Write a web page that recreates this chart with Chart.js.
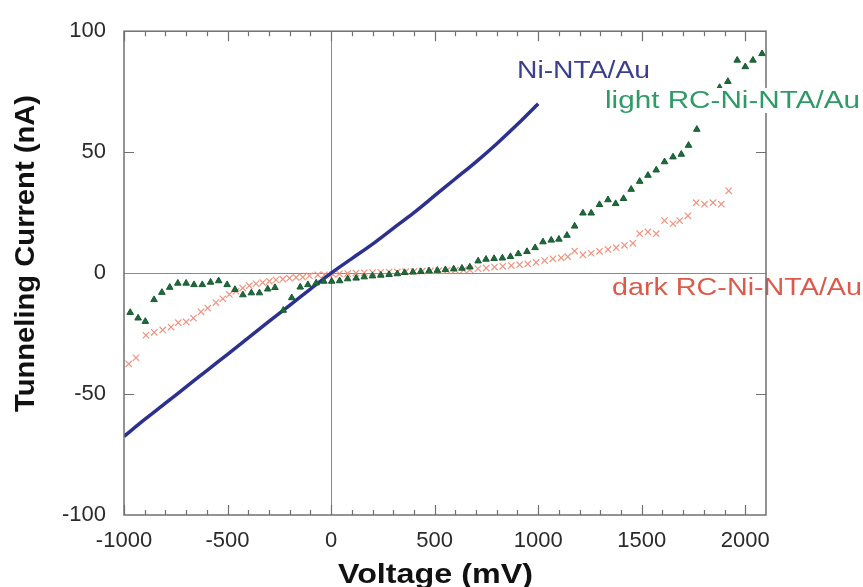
<!DOCTYPE html>
<html>
<head>
<meta charset="utf-8">
<script src="https://cdn.jsdelivr.net/npm/chart.js@4.4.1/dist/chart.umd.min.js"></script>
<style>
  html, body { margin: 0; padding: 0; background: #fff; }
  #wrap { width: 863px; height: 587px; position: relative; }
</style>
</head>
<body>
<div id="wrap"><canvas id="ivChart"></canvas></div>
<script>
// ---- data (voltage in mV, current in nA) ----
const xTicks = [-1000, -500, 0, 500, 1000, 1500, 2000];
const yTicks = [-100, -50, 0, 50, 100];

// Ni-NTA/Au (solid line)
const niV = [-1000, -900, -800, -700, -600, -500, -400, -300, -200, -100, 0, 100, 200, 300, 400, 500, 600, 700, 800, 900, 1000];
const niI = [-67.5, -60.5, -53.8, -47.0, -40.3, -33.6, -26.8, -20.0, -13.3, -6.6, 0, 6.0, 12.0, 18.5, 25.0, 32.0, 39.0, 46.0, 53.5, 61.5, 70.0];

// light RC-Ni-NTA/Au (triangles)
const lightV = [-970, -932, -897, -855, -817, -779, -740, -700, -662, -622, -582, -543, -502, -464, -426, -385, -346, -306, -271, -231,
  -190, -149, -112, -72, -35, 3, 41, 80, 121, 160, 200, 240, 280, 320, 355, 395, 433, 473, 513, 552,
  592, 632, 670, 710, 748, 787, 827, 866, 904, 946, 985, 1023, 1063, 1100, 1139, 1176, 1216, 1256, 1296, 1337,
  1374, 1412, 1449, 1490, 1530, 1570, 1610, 1651, 1691, 1726, 1766, 1840, 1876, 1916, 1961, 2000, 2037, 2081];
const lightI = [-16.3, -18.6, -20.0, -11.0, -8.0, -5.9, -4.2, -4.2, -4.8, -4.8, -3.8, -3.2, -4.8, -6.8, -9.0, -8.2, -8.2, -6.6, -6.0, -15.4,
  -10.2, -5.8, -4.8, -4.1, -3.4, -3.4, -3.2, -2.4, -2.1, -1.6, -1.2, -0.9, -0.6, -0.3, 0.2, 0.4, 0.6, 0.9, 1.1, 1.4,
  1.7, 2.0, 2.5, 5.0, 5.7, 6.0, 6.2, 6.8, 8.0, 8.9, 10.5, 12.9, 13.6, 14.0, 15.6, 19.4, 24.8, 24.8, 28.3, 30.3,
  28.7, 30.8, 34.6, 37.9, 40.4, 42.6, 46.0, 48.0, 49.1, 52.8, 59.4, 73.3, 76.7, 79.2, 88.0, 85.3, 88.0, 90.7];

// dark RC-Ni-NTA/Au (crosses)
const darkV = [-977, -942, -894, -854, -813, -773, -738, -700, -665, -628, -596, -556, -523, -491, -459, -427, -395, -362, -330, -298,
  -266, -233, -201, -169, -137, -105, -64, -32, 8, 40, 80, 120, 160, 200, 240, 280, 320, 360, 400, 440,
  480, 520, 560, 600, 640, 670, 709, 749, 789, 829, 870, 910, 950, 990, 1031, 1071, 1111, 1143, 1176, 1216,
  1256, 1296, 1337, 1377, 1417, 1457, 1490, 1530, 1570, 1610, 1651, 1683, 1723, 1763, 1803, 1844, 1884, 1920];
const darkI = [-37.5, -35.0, -25.7, -24.5, -23.5, -22.3, -20.5, -20.2, -18.6, -16.0, -14.5, -12.2, -10.6, -8.8, -7.5, -6.2, -5.2, -4.4, -3.9, -3.4,
  -2.8, -2.5, -2.1, -1.8, -1.7, -1.1, -0.7, -0.7, -0.5, -0.3, -0.2, 0.0, 0.1, 0.2, 0.3, 0.4, 0.5, 0.6, 0.7, 0.8,
  0.9, 1.0, 1.1, 1.2, 1.3, 1.4, 1.8, 2.1, 2.5, 2.8, 3.1, 3.5, 3.8, 4.4, 5.2, 5.9, 6.3, 6.8, 9.1, 7.5,
  8.2, 9.0, 9.8, 10.5, 11.5, 12.3, 16.3, 17.0, 16.3, 21.7, 20.4, 21.7, 23.7, 29.1, 28.5, 29.1, 28.5, 34.0];

const SANS = '"Liberation Sans", Arial, Helvetica, sans-serif';

function toPoints(xs, ys) {
    return xs.map((v, i) => ({ x: v, y: ys[i] }));
}

// draws text squeezed/stretched to a target width (the figure is a bit wide)
function fitText(ctx, txt, x, y, width, font, color, angle) {
    ctx.save();
    ctx.font = font;
    const sx = width / ctx.measureText(txt).width;
    ctx.translate(x, y);
    if (angle) ctx.rotate(angle);
    ctx.scale(sx, 1);
    ctx.fillStyle = color;
    ctx.textAlign = 'left';
    ctx.textBaseline = 'alphabetic';
    ctx.fillText(txt, 0, 0);
    ctx.restore();
}

const decor = {
    id: 'decor',
    afterDatasetsDraw(chart) {
        const { ctx, chartArea: a } = chart;
        const xs = chart.scales.x, ys = chart.scales.y;

        // label that the right frame runs through
        fitText(ctx, 'dark RC-Ni-NTA/Au', 612, 295, 250, '23px ' + SANS, '#dc5a4b');

        // frame
        ctx.save();
        ctx.strokeStyle = '#707070';
        ctx.lineWidth = 1.5;
        ctx.strokeRect(a.left, a.top, a.right - a.left, a.bottom - a.top);

        // inward ticks, minor every 100 mV
        ctx.lineWidth = 1.2;
        ctx.beginPath();
        for (let v = -1000; v <= 2000; v += 100) {
            const px = Math.round(xs.getPixelForValue(v)) + 0.5;
            const len = v % 500 === 0 ? 10 : 5;
            ctx.moveTo(px, a.bottom); ctx.lineTo(px, a.bottom - len);
            ctx.moveTo(px, a.top); ctx.lineTo(px, a.top + len);
        }
        [-50, 50].forEach(v => {
            const py = Math.round(ys.getPixelForValue(v)) + 0.5;
            ctx.moveTo(a.left, py); ctx.lineTo(a.left + 10, py);
            ctx.moveTo(a.right, py); ctx.lineTo(a.right - 10, py);
        });
        ctx.stroke();

        // light label sits on a white box
        ctx.fillStyle = '#fff';
        ctx.fillRect(603, 88, 260, 25);
        ctx.restore();
        fitText(ctx, 'light RC-Ni-NTA/Au', 605, 108, 255, '23px ' + SANS, '#2e9a66');
        fitText(ctx, 'Ni-NTA/Au', 517, 78, 133, '23px ' + SANS, '#3b3f8e');

        // axis titles
        fitText(ctx, 'Voltage (mV)', 338, 583, 195, 'bold 28px ' + SANS, '#111');
        fitText(ctx, 'Tunneling Current (nA)', 34, 412, 317, 'bold 28px ' + SANS, '#111', -Math.PI / 2);
    }
};

const zeroLine = c => (c.tick && c.tick.value === 0 ? '#8a8a8a' : 'rgba(0,0,0,0)');
const plainNum = v => String(v);

new Chart(document.getElementById('ivChart'), {
    type: 'scatter',
    data: {
        datasets: [
            {
                label: 'light RC-Ni-NTA/Au',
                data: toPoints(lightV, lightI),
                pointStyle: 'triangle',
                pointRadius: 3.8,
                backgroundColor: '#1e6a3b',
                borderColor: '#175a31',
                borderWidth: 1,
                order: 1
            },
            {
                label: 'Ni-NTA/Au',
                data: toPoints(niV, niI),
                showLine: true,
                borderColor: '#2c3190',
                borderWidth: 3.5,
                pointRadius: 0,
                tension: 0.3,
                order: 2
            },
            {
                label: 'dark RC-Ni-NTA/Au',
                data: toPoints(darkV, darkI),
                pointStyle: 'crossRot',
                pointRadius: 4.5,
                borderColor: '#f0937f',
                borderWidth: 1.2,
                order: 3
            }
        ]
    },
    options: {
        responsive: true,
        maintainAspectRatio: false,
        animation: false,
        devicePixelRatio: 1,
        events: [],
        layout: { padding: { top: 22, right: 97, left: 0, bottom: 0 } },
        plugins: { legend: { display: false }, tooltip: { enabled: false } },
        scales: {
            x: {
                type: 'linear',
                min: -1000,
                max: 2100,
                afterBuildTicks: s => { s.ticks = xTicks.map(v => ({ value: v })); },
                afterFit: s => { s.height = 72; },
                grid: { drawTicks: false, color: zeroLine, lineWidth: 1 },
                border: { display: false },
                ticks: { padding: 13, maxRotation: 0, autoSkip: false, callback: plainNum, color: '#2a2a2a', font: { family: SANS, size: 22 } }
            },
            y: {
                min: -100,
                max: 100,
                afterBuildTicks: s => { s.ticks = yTicks.map(v => ({ value: v })); },
                afterFit: s => { s.width = 124; },
                grid: { drawTicks: false, color: zeroLine, lineWidth: 1 },
                border: { display: false },
                ticks: { padding: 18, callback: plainNum, color: '#2a2a2a', font: { family: SANS, size: 22 } }
            }
        }
    },
    plugins: [decor]
});
</script>
</body>
</html>
